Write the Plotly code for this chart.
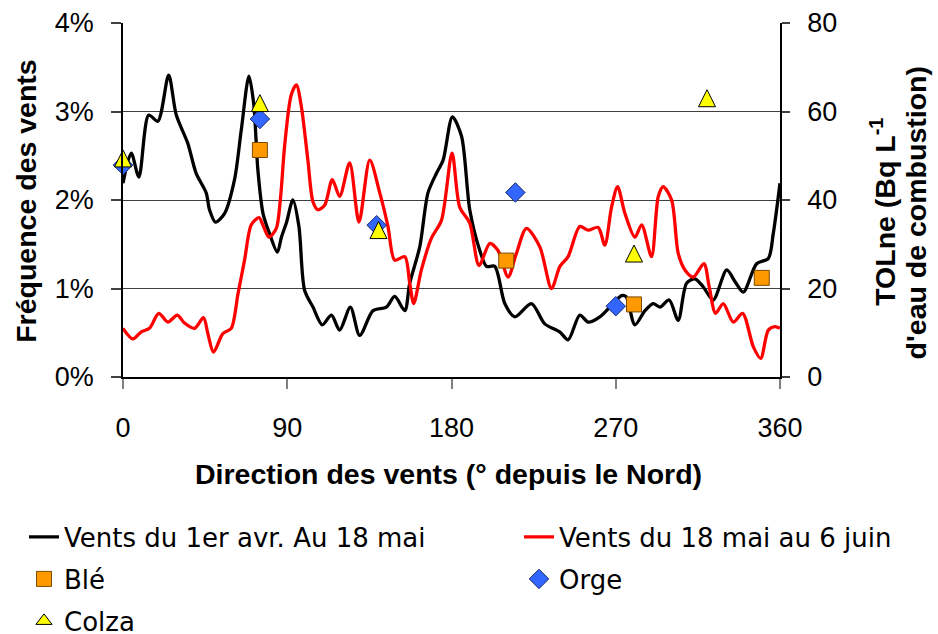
import plotly.graph_objects as go

# Wind frequency by direction (degrees from North, % of time)
vents_avr_deg = [0, 4.5, 8.7, 14.1, 19.1, 25.0, 29.2, 35.5, 40.1, 45.6, 47.4, 50.7, 55.7, 61.1, 64.8,
                 69.0, 71.6, 73.9, 76.7, 80.3, 84.6, 86.8, 89.5, 93.1, 96.4, 99.5, 104.1, 109.2, 114.2,
                 118.7, 124.6, 129.7, 137.0, 144.3, 148.9, 154.4, 157.1, 162.6, 167.1, 171.7, 175.4,
                 180.5, 185.5, 190.0, 195.5, 199.2, 203.7, 209.2, 214.7, 223.8, 231.1, 239.3, 243.9,
                 250.3, 254.9, 261.3, 267.7, 273.2, 275.6, 280.5, 286.0, 290.5, 294.2, 299.3, 304.2,
                 308.8, 313.4, 317.9, 323.4, 330.8, 335.3, 339.9, 347.2, 353.6, 356.3, 360]
vents_avr_freq = [2.19, 2.53, 2.26, 2.96, 2.89, 3.41, 2.96, 2.64, 2.30, 2.08, 1.89, 1.75, 1.85, 2.23, 2.79,
                  3.40, 3.09, 2.34, 1.85, 1.62, 1.41, 1.58, 1.74, 2.00, 1.70, 0.98, 0.79, 0.59, 0.70,
                  0.53, 0.79, 0.47, 0.75, 0.79, 0.91, 0.75, 1.06, 1.47, 2.08, 2.30, 2.45,
                  2.94, 2.72, 1.89, 1.43, 1.25, 1.25, 0.83, 0.68, 0.83, 0.60, 0.51, 0.42,
                  0.70, 0.62, 0.68, 0.81, 0.92, 0.91, 0.59, 0.75, 0.83, 0.79, 0.87, 0.64,
                  1.06, 1.11, 1.02, 0.87, 1.21, 1.08, 0.96, 1.28, 1.34, 1.62, 2.19]

vents_mai_deg = [0, 5.4, 10.0, 14.5, 19.6, 24.6, 29.7, 33.7, 39.2, 44.1, 46.5, 49.6, 54.7, 59.3, 63.0,
                 66.6, 70.3, 74.5, 77.0, 80.0, 84.0, 86.2, 88.6, 92.2, 95.0, 97.7, 101.3, 104.1, 106.8,
                 110.5, 114.7, 118.7, 124.2, 129.3, 135.2, 140.7, 145.2, 148.9, 154.4, 157.1, 159.3,
                 163.5, 169.0, 174.5, 180.3, 184.5, 190.0, 195.1, 201.0, 205.5, 211.0, 215.6, 221.1,
                 228.4, 234.8, 239.4, 243.9, 250.3, 254.9, 260.4, 264.0, 267.7, 271.0, 275.0, 280.5,
                 284.2, 289.6, 293.3, 296.0, 300.6, 304.2, 307.9, 312.5, 318.3, 321.2, 324.7, 328.9,
                 334.4, 339.5, 345.4, 349.4, 353.6, 357.3, 360]
vents_mai_freq = [0.55, 0.43, 0.51, 0.55, 0.72, 0.62, 0.70, 0.61, 0.55, 0.67, 0.49, 0.28, 0.49, 0.55, 0.94,
                  1.32, 1.72, 1.80, 1.70, 1.58, 1.68, 2.00, 2.62, 3.19, 3.30, 3.06, 2.45, 1.98, 1.89,
                  1.94, 2.23, 2.04, 2.42, 1.75, 2.45, 2.08, 1.70, 1.32, 1.36, 1.06, 0.83,
                  1.21, 1.57, 1.77, 2.53, 1.92, 1.74, 1.26, 1.51, 1.43, 1.13, 1.40, 1.68,
                  1.47, 1.00, 1.25, 1.36, 1.70, 1.66, 1.69, 1.49, 1.92, 2.15, 1.85, 1.58,
                  1.72, 1.36, 2.04, 2.15, 2.00, 1.40, 1.21, 1.13, 1.28, 1.02, 0.72, 0.83,
                  0.62, 0.72, 0.34, 0.21, 0.53, 0.57, 0.55]

# TOLne activity in crops (Bq per litre of combustion water), by site direction
ble_deg = [75, 210, 280, 350]
ble_tol = [51.3, 26.3, 16.4, 22.4]
orge_deg = [0, 75, 139, 215, 270]
orge_tol = [47.9, 58.3, 34.3, 41.7, 16.0]
colza_deg = [0, 75, 140, 280, 320]
colza_tol = [49.4, 61.9, 33.2, 27.9, 63.0]

x_ticks = [0, 90, 180, 270, 360]
y_ticks = [0, 1, 2, 3, 4]
y_ticktext = ["0%", "1%", "2%", "3%", "4%"]
y2_ticks = [0, 20, 40, 60, 80]

SANS = "Liberation Sans, Arial, sans-serif"
LEG = "DejaVu Sans, sans-serif"

fig = go.Figure()

fig.add_trace(go.Scatter(
    x=vents_avr_deg, y=vents_avr_freq, mode="lines", name="Vents du 1er avr. Au 18 mai",
    line=dict(color="#000000", width=3.3, shape="spline", smoothing=0.8),
    legend="legend",
))
fig.add_trace(go.Scatter(
    x=vents_mai_deg, y=vents_mai_freq, mode="lines", name="Vents du 18 mai au 6 juin",
    line=dict(color="#FF0000", width=3.3, shape="spline", smoothing=0.8),
    legend="legend2",
))
fig.add_trace(go.Scatter(
    x=ble_deg, y=ble_tol, mode="markers", name="Blé", yaxis="y2", cliponaxis=False,
    marker=dict(symbol="square", size=15, color="#FF9900", line=dict(color="#7a4a00", width=1)),
    legend="legend3",
))
fig.add_trace(go.Scatter(
    x=orge_deg, y=orge_tol, mode="markers", name="Orge", yaxis="y2", cliponaxis=False,
    marker=dict(symbol="diamond", size=15, color="#3366FF", line=dict(color="#1a2a6b", width=1)),
    legend="legend4",
))
# Colza points: an upward triangle centred on each point (flipped arrow symbol)
fig.add_trace(go.Scatter(
    x=colza_deg, y=colza_tol, mode="markers", name="Colza", yaxis="y2", cliponaxis=False,
    marker=dict(symbol="arrow-down", angle=180, standoff=8.5, size=17, color="#FFFF00",
                line=dict(color="#000000", width=1)),
    showlegend=False, legendgroup="colza",
))
# Legend key for Colza
fig.add_trace(go.Scatter(
    x=[None], y=[None], mode="markers", name="Colza", yaxis="y2",
    marker=dict(symbol="triangle-up", size=14, color="#FFFF00", line=dict(color="#000000", width=1)),
    legend="legend5", legendgroup="colza",
))

axis_font = dict(family=SANS, size=27, color="#000000")

fig.update_layout(
    width=938, height=634,
    margin=dict(l=123, r=158, t=23, b=257, autoexpand=False),
    paper_bgcolor="#FFFFFF", plot_bgcolor="#FFFFFF",
    xaxis=dict(
        range=[0, 360], tickvals=x_ticks, ticktext=[str(v) for v in x_ticks],
        ticks="outside", ticklen=10, tickwidth=1.5, tickcolor="#808080",
        showline=True, linecolor="#000000", linewidth=1.5,
        showgrid=False, zeroline=False, tickfont=axis_font, ticklabelstandoff=16,
    ),
    yaxis=dict(
        range=[0, 4], tickvals=y_ticks, ticktext=y_ticktext,
        ticks="outside", ticklen=10, tickwidth=1.5, tickcolor="#404040",
        showline=True, linecolor="#000000", linewidth=1.5,
        showgrid=True, gridcolor="#404040", gridwidth=1.2, zeroline=False,
        tickfont=axis_font, ticklabelstandoff=12,
    ),
    yaxis2=dict(
        range=[0, 80], tickvals=y2_ticks, overlaying="y", side="right",
        ticks="outside", ticklen=8, tickwidth=1.5, tickcolor="#404040",
        showline=True, linecolor="#000000", linewidth=1.5,
        showgrid=False, zeroline=False, tickfont=axis_font, ticklabelstandoff=12,
    ),
    showlegend=True,
)

# One legend box per entry, laid out on a two-column grid
leg_common = dict(orientation="h", xref="container", yref="container", xanchor="left",
                  yanchor="middle", bgcolor="rgba(0,0,0,0)", borderwidth=0,
                  font=dict(family=LEG, size=26, color="#000000"))
col_x = [24 / 938, 519 / 938]
row_y = [1 - 537 / 634, 1 - 579 / 634, 1 - 621 / 634]
fig.update_layout(
    legend=dict(x=col_x[0], y=row_y[0], **leg_common),
    legend2=dict(x=col_x[1], y=row_y[0], **leg_common),
    legend3=dict(x=col_x[0], y=row_y[1], **leg_common),
    legend4=dict(x=col_x[1], y=row_y[1], **leg_common),
    legend5=dict(x=col_x[0], y=row_y[2], **leg_common),
)

title_font = dict(family=SANS, size=28.5, color="#000000")
fig.add_annotation(text="<b>Fréquence des vents</b>", xref="paper", yref="paper",
                   x=-0.148, y=0.497, xanchor="center", yanchor="middle",
                   textangle=-90, showarrow=False, font=title_font)
fig.add_annotation(text="<b>Direction des vents (° depuis le Nord)</b>", xref="paper", yref="paper",
                   x=0.496, y=-0.275, xanchor="center", yanchor="middle",
                   showarrow=False, font=title_font)
fig.add_annotation(text="<b>TOLne (Bq L<sup>-1</sup></b>", xref="paper", yref="paper",
                   x=1.157, y=0.467, xanchor="center", yanchor="middle",
                   textangle=-90, showarrow=False, font=title_font)
fig.add_annotation(text="<b>d'eau de combustion)</b>", xref="paper", yref="paper",
                   x=1.207, y=0.465, xanchor="center", yanchor="middle",
                   textangle=-90, showarrow=False, font=title_font)

fig.write_html("out.html")
